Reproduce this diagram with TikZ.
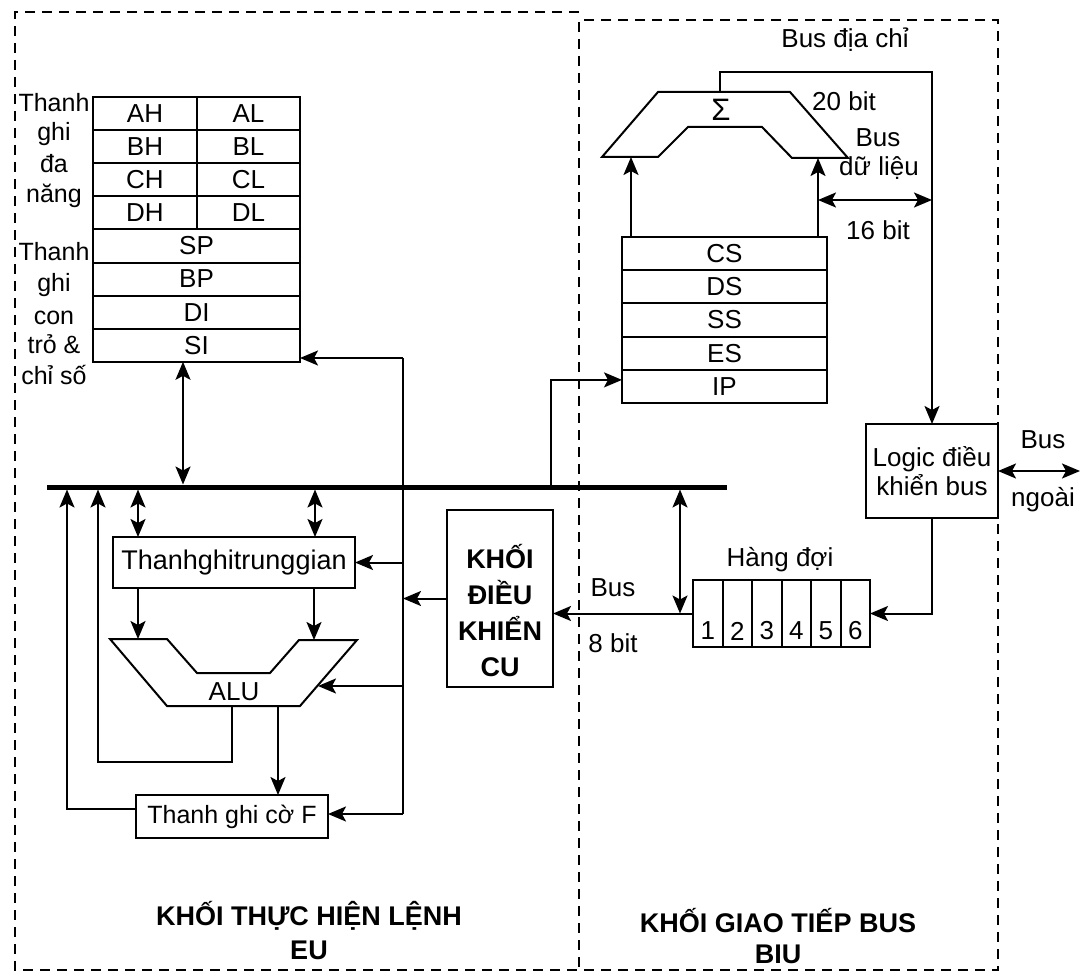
\documentclass[tikz,border=0pt]{standalone}
\usepackage{fontspec}
\setmainfont{Liberation Sans}
\usetikzlibrary{arrows.meta,calc}
\begin{document}
\begin{tikzpicture}[x=1pt,y=-1pt,
  every node/.style={font=\fontsize{26}{29}\selectfont, inner sep=0pt, outer sep=0pt},
  ln/.style={line width=2pt},
  arr/.style={ln,-{Stealth[length=18pt,width=15pt,inset=4pt]}},
  darr/.style={ln,{Stealth[length=18pt,width=15pt,inset=4pt]}-{Stealth[length=18pt,width=15pt,inset=4pt]}},
  box/.style={draw,line width=2pt},
  frame/.style={line width=2.2pt, dash pattern=on 10pt off 7pt},
  boldtxt/.style={font=\fontsize{27}{36}\selectfont\bfseries, align=center},
  smalltxt/.style={font=\fontsize{25}{29}\selectfont},
  regh/.style={box,minimum width=104,minimum height=33.1,anchor=north west},
  regl/.style={box,minimum width=103,minimum height=33.1,anchor=north west},
  regw/.style={box,minimum width=207,minimum height=33.1,anchor=north west},
  segw/.style={box,minimum width=205,minimum height=33.2,anchor=north west},
]
\useasboundingbox (0,0) rectangle (1090,979);

% frames
\draw[frame] (579,12) -- (15,12) -- (15,970) -- (998,970) -- (998,20) -- (579,20) -- (579,970);

% general registers
\node[regh] (AH) at (93,97) {AH};
\node[regl] (AL) at (197,97) {AL};
\node[regh] (BH) at (93,130.1) {BH};
\node[regl] (BL) at (197,130.1) {BL};
\node[regh] (CH) at (93,163.2) {CH};
\node[regl] (CL) at (197,163.2) {CL};
\node[regh] (DH) at (93,196.3) {DH};
\node[regl] (DL) at (197,196.3) {DL};
\node[regw] (SP) at (93,229.4) {SP};
\node[regw] (BP) at (93,262.5) {BP};
\node[regw] (DI) at (93,295.6) {DI};
\node[regw] (SI) at (93,328.7) {SI};

\foreach \t/\y [count=\i] in {Thanh/112, ghi/141, đa/172, năng/202}
  \node[smalltxt,anchor=base] (ga\i) at (54,\y) {\t};
\foreach \t/\y [count=\i] in {Thanh/260, ghi/291, con/324, trỏ \&/353, chỉ số/384}
  \node[smalltxt,anchor=base] (gb\i) at (54,\y) {\t};

% segment registers
\node[segw] (CS) at (622,237) {CS};
\node[segw] (DS) at (622,270.2) {DS};
\node[segw] (SS) at (622,303.4) {SS};
\node[segw] (ES) at (622,336.6) {ES};
\node[segw] (IP) at (622,369.8) {IP};

% adder
\draw[ln] (602,157) -- (658,92) -- (790,92) -- (848,158) -- (792,158) -- (762,127) -- (688,127) -- (658,157) -- cycle;
\node[font=\fontsize{31}{31}\selectfont] (sigma) at (721,110) {Σ};
\coordinate (addTop) at (720,92);
\coordinate (addL) at (631,157);
\coordinate (addR) at (818,158);

% logic box
\node[box,minimum width=132,minimum height=94,align=center] (logic) at (932,471) {Logic điều\\khiển bus};

% queue
\node[box,minimum width=177,minimum height=67,anchor=north west] (queue) at (693,580) {};
\foreach \i in {1,...,5} \draw[ln] ({693+29.5*\i},580) -- ({693+29.5*\i},647);
\foreach \i in {1,...,6} \node (qn\i) at ({678.25+29.5*\i},631) {\i};

% control unit
\node[box,minimum width=106,minimum height=177] (CU) at (500,598.5) {};
\node[boldtxt] (CUt) at (500,611) {KHỐI\\ĐIỀU\\KHIỂN\\CU};

% bus
\node[fill,minimum width=680,minimum height=5,anchor=west] (bus) at (47,487) {};

% temp register, ALU, flags
\node[box,minimum width=242,minimum height=51,font=\fontsize{27}{29}\selectfont] (TG) at (234,562.5) {Thanhghitrunggian};
\draw[ln] (110,639) -- (167,639) -- (197,673) -- (270,673) -- (299,640) -- (357,640) -- (300,706) -- (167,706) -- cycle;
\node (alu) at (234,692) {ALU};
\coordinate (aluA) at (138,639);
\coordinate (aluB) at (314,640);
\coordinate (aluIn) at (318,686);
\coordinate (aluO1) at (232,706);
\coordinate (aluO2) at (278,706);
\node[box,smalltxt,minimum width=192,minimum height=43] (flags) at (232,816.5) {Thanh ghi cờ F};

% control line
\coordinate (ctlT) at (403,358);
\coordinate (ctlB) at (403,814);
\draw[ln] (ctlT) -- (ctlB);
\draw[arr] (ctlT) -- (ctlT -| SI.east);
\draw[arr] (ctlB) -- (ctlB -| flags.east);
\draw[arr] (ctlT |- TG.east) -- (TG.east);
\draw[arr] (ctlT |- aluIn) -- (aluIn);
\draw[arr] (CU.west) -- (CU.west -| ctlT);

% bus connections EU
\coordinate (siB) at ([xshift=-13.5pt]SI.south);
\draw[darr] (siB) -- (siB |- bus.north);
\coordinate (tgL) at ([xshift=25pt]TG.north west);
\coordinate (tgR) at ([xshift=-40pt]TG.north east);
\draw[darr] (tgL) -- (tgL |- bus.south);
\draw[darr] (tgR) -- (tgR |- bus.south);
\draw[arr] (aluA |- TG.south) -- (aluA);
\draw[arr] (aluB |- TG.south) -- (aluB);
\coordinate (loopA) at (98,762);
\draw[arr] (aluO1) |- (loopA) -- (loopA |- bus.south);
\coordinate (loopB) at (67,809);
\draw[arr] ([yshift=7.5pt]flags.west) -- (loopB) -- (loopB |- bus.south);
\draw[arr] (aluO2) -- (aluO2 |- flags.north);

% BIU connections
\draw[arr] (queue.west) -- (queue.west -| CU.east);
\coordinate (qb) at ([xshift=-13pt]queue.west);
\draw[darr] (qb |- bus.south) -- (qb);
\coordinate (ipL) at ([yshift=6.5pt]IP.west);
\coordinate (ipC) at ([xshift=-71pt]ipL);
\draw[arr] (ipC |- bus.north) |- (ipL);
\draw[arr] (addL |- CS.north) -- (addL);
\draw[arr] (addR |- CS.north) -- (addR);
\draw[arr] (addTop) -- ++(0,-20) -| (logic.north);
\coordinate (d16) at (818,200);
\draw[darr] (d16) -- (d16 -| logic.north);
\draw[arr] (logic.south) |- (queue.east);
\draw[darr] (logic.east) -- ++(82,0);

% labels
\node (busaddr) at (845,40) {Bus địa chỉ};
\node (b20) at (844,101) {20 bit};
\node (bd1) at (878,138) {Bus};
\node (bd2) at (879,168) {dữ liệu};
\node (b16) at (878,230) {16 bit};
\node (hq) at (780,560) {Hàng đợi};
\node (b8a) at (613,588) {Bus};
\node (b8b) at (613,643) {8 bit};
\node (bx1) at (1043,440) {Bus};
\node (bx2) at (1043,500) {ngoài};
\node[boldtxt] (eu1) at (309,916) {KHỐI THỰC HIỆN LỆNH};
\node[boldtxt] (eu2) at (309,950) {EU};
\node[boldtxt] (biu1) at (778,921) {KHỐI GIAO TIẾP BUS};
\node[boldtxt] (biu2) at (778,954) {BIU};
\end{tikzpicture}
\end{document}
